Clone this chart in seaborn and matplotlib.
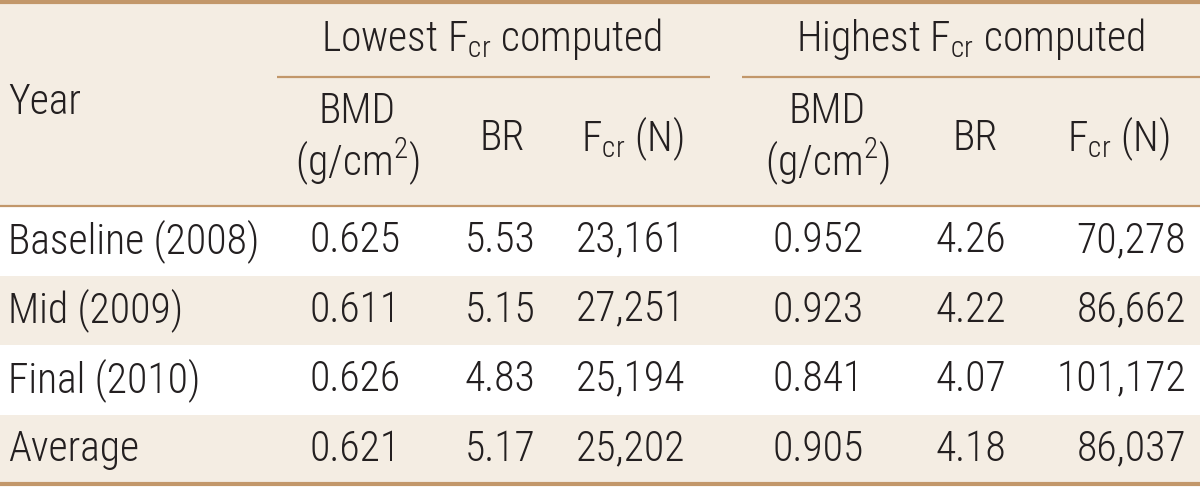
import matplotlib
matplotlib.use('Agg')
import matplotlib.pyplot as plt
from matplotlib import font_manager
import seaborn as sns

sns.set_theme(style='white')

# pick a condensed face if there is one
names = {f.name for f in font_manager.fontManager.ttflist}
font = 'DejaVu Sans'
for cand in ['Roboto Condensed', 'Liberation Sans Narrow', 'DejaVu Sans Condensed', 'Open Sans Condensed']:
    if cand in names:
        font = cand
        break
plt.rcParams['font.family'] = [font, 'DejaVu Sans']
plt.rcParams['font.weight'] = 'light'
plt.rcParams['mathtext.default'] = 'regular'

# table data
years = ['Baseline (2008)', 'Mid (2009)', 'Final (2010)', 'Average']
low_bmd = ['0.625', '0.611', '0.626', '0.621']
low_br = ['5.53', '5.15', '4.83', '5.17']
low_fcr = ['23,161', '27,251', '25,194', '25,202']
high_bmd = ['0.952', '0.923', '0.841', '0.905']
high_br = ['4.26', '4.22', '4.07', '4.18']
high_fcr = ['70,278', '86,662', '101,172', '86,037']
groups = ['Lowest F$_{cr}$ computed', 'Highest F$_{cr}$ computed']
sub_heads = ['BMD\n(g/cm$^{2}$)', 'BR', 'F$_{cr}$ (N)']

beige = '#F4EDE3'
brown = '#C2976A'
ink = '#231F20'
fs = 30

fig = plt.figure(figsize=(12, 4.87), dpi=100)
ax = fig.add_axes([0, 0, 1, 1])
ax.set_xlim(0, 1200)
ax.set_ylim(487, 0)
ax.axis('off')

head_h = 206
row_h = 69.5

ax.axhspan(0, head_h, color=beige, lw=0)
for i in range(len(years)):
    if i % 2 == 1:
        ax.axhspan(head_h + i * row_h, head_h + (i + 1) * row_h, color=beige, lw=0)

# rules
ax.axhline(2, color=brown, lw=3)
ax.axhline(head_h, color=brown, lw=1.6)
ax.axhline(head_h + len(years) * row_h, color=brown, lw=3)
ax.plot([277, 710], [77, 77], color=brown, lw=1.6, solid_capstyle='butt')
ax.plot([742, 1200], [77, 77], color=brown, lw=1.6, solid_capstyle='butt')

# header
ax.text(8, 103, 'Year', fontsize=fs, color=ink, va='center', ha='left')
ax.text(492, 39, groups[0], fontsize=fs, color=ink, va='center', ha='center')
ax.text(970, 39, groups[1], fontsize=fs, color=ink, va='center', ha='center')
sub_x = [357, 502, 632, 827, 975, 1118]
for j, x in enumerate(sub_x):
    lab = sub_heads[j % 3]
    ax.text(x, 139, lab, fontsize=fs, color=ink, va='center', ha='center',
            linespacing=1.1, multialignment='center')

# body
cols = [low_bmd, low_br, low_fcr, high_bmd, high_br]
col_x = [355, 500, 631, 818, 971]
for i in range(len(years)):
    yc = head_h + (i + 0.5) * row_h
    ax.text(8, yc, years[i], fontsize=fs, color=ink, va='center', ha='left')
    for vals, x in zip(cols, col_x):
        ax.text(x, yc, vals[i], fontsize=fs, color=ink, va='center', ha='center')
    ax.text(1186, yc, high_fcr[i], fontsize=fs, color=ink, va='center', ha='right')

fig.savefig('out.png', dpi=100)
